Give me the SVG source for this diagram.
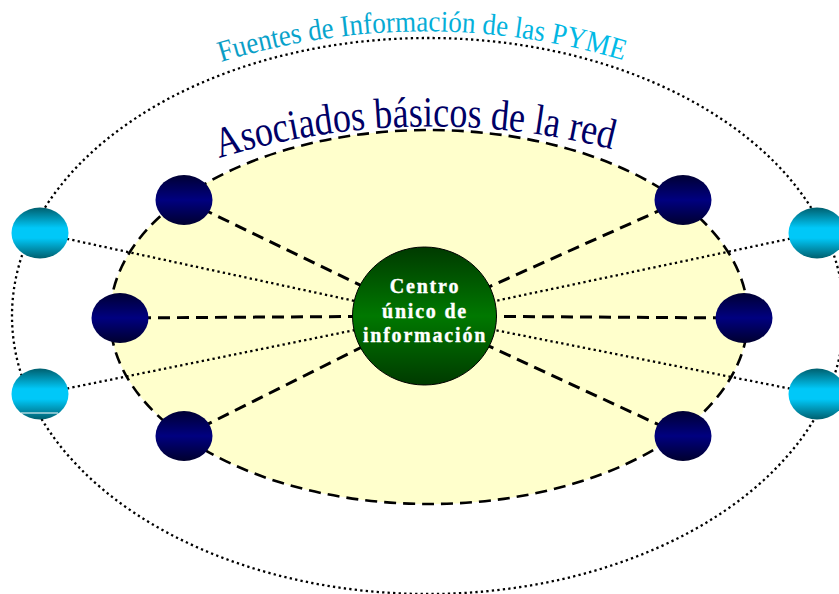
<svg xmlns="http://www.w3.org/2000/svg" width="839" height="594" viewBox="0 0 839 594">
<defs>
<linearGradient id="gBlue" x1="0" y1="0" x2="0" y2="1">
<stop offset="0" stop-color="#000033"/>
<stop offset="0.5" stop-color="#000080"/>
<stop offset="1" stop-color="#00002e"/>
</linearGradient>
<linearGradient id="gCyan" x1="0" y1="0" x2="0" y2="1">
<stop offset="0" stop-color="#005f6e"/>
<stop offset="0.4" stop-color="#00c8f8"/>
<stop offset="0.6" stop-color="#00c8f8"/>
<stop offset="1" stop-color="#005f6e"/>
</linearGradient>
<linearGradient id="gGreen" x1="0" y1="0" x2="0" y2="1">
<stop offset="0" stop-color="#003a00"/>
<stop offset="0.5" stop-color="#007800"/>
<stop offset="1" stop-color="#003a00"/>
</linearGradient>
<linearGradient id="gTitle" x1="0" y1="0" x2="1" y2="0">
<stop offset="0" stop-color="#0a9cc4"/>
<stop offset="1" stop-color="#00bce8"/>
</linearGradient>
<path id="arcTop" d="M 221 62 A 695 695 0 0 1 629 62"/>
<path id="arcMid" d="M 219 158 A 729 729 0 0 1 615 150"/>
<style>
.outer{fill:none;stroke:#000;stroke-width:2.3;stroke-dasharray:2.3 3.2}
.inner{fill:#ffffcc;stroke:#000;stroke-width:2.6;stroke-dasharray:12 7}
.dash{stroke:#000;stroke-width:3;stroke-dasharray:12 7;fill:none}
.dot{stroke:#000;stroke-width:2.3;stroke-dasharray:2.3 3.2;fill:none}
.blue{fill:url(#gBlue)}
.cyan{fill:url(#gCyan)}
.ctext{font-family:"Liberation Serif","Times New Roman",serif;font-weight:bold;font-size:20px;fill:#fff;stroke:#fff;stroke-width:0.35px;letter-spacing:1.8px;text-anchor:middle}
</style>
</defs>
<rect width="839" height="594" fill="#fff"/>
<ellipse class="outer" cx="428" cy="316" rx="416" ry="278"/>
<ellipse class="inner" cx="429" cy="317" rx="319" ry="187"/>
<text font-family="'Liberation Serif','Times New Roman',serif" font-size="30" fill="url(#gTitle)"><textPath href="#arcTop" textLength="408" lengthAdjust="spacingAndGlyphs">Fuentes de Información de las PYME</textPath></text>
<text font-family="'Liberation Serif','Times New Roman',serif" font-size="43" fill="#000066"><textPath href="#arcMid" textLength="398" lengthAdjust="spacingAndGlyphs">Asociados básicos de la red</textPath></text>
<g id="connectors">
<line class="dash" x1="184" y1="200" x2="424" y2="316"/>
<line class="dash" x1="120" y1="318" x2="424" y2="316"/>
<line class="dash" x1="184" y1="436" x2="424" y2="316"/>
<line class="dash" x1="683" y1="200" x2="424" y2="316"/>
<line class="dash" x1="744" y1="318" x2="424" y2="316"/>
<line class="dash" x1="683" y1="436" x2="424" y2="316"/>
<line class="dot" x1="40" y1="233" x2="424" y2="316"/>
<line class="dot" x1="40" y1="394" x2="424" y2="316"/>
<line class="dot" x1="817" y1="233" x2="424" y2="316"/>
<line class="dot" x1="817" y1="394" x2="424" y2="316"/>
</g>
<g id="n-blue-tl"><ellipse class="blue" cx="184" cy="200" rx="28.5" ry="25"/></g>
<g id="n-blue-ml"><ellipse class="blue" cx="120" cy="318" rx="28.5" ry="25"/></g>
<g id="n-blue-bl"><ellipse class="blue" cx="184" cy="436" rx="28.5" ry="25"/></g>
<g id="n-blue-tr"><ellipse class="blue" cx="683" cy="200" rx="28.5" ry="25"/></g>
<g id="n-blue-mr"><ellipse class="blue" cx="744" cy="318" rx="28.5" ry="25"/></g>
<g id="n-blue-br"><ellipse class="blue" cx="683" cy="436" rx="28.5" ry="25"/></g>
<g id="n-cyan-tl"><ellipse class="cyan" cx="40" cy="233" rx="28.5" ry="25.5"/></g>
<g id="n-cyan-bl"><ellipse class="cyan" cx="40" cy="394" rx="28.5" ry="25.5"/><line x1="21" y1="413" x2="58" y2="413" stroke="#fff" stroke-width="1.2"/></g>
<g id="n-cyan-tr"><ellipse class="cyan" cx="817" cy="233" rx="28.5" ry="25.5"/></g>
<g id="n-cyan-br"><ellipse class="cyan" cx="817" cy="394" rx="28.5" ry="25.5"/></g>
<g id="n-centro">
<ellipse cx="424.5" cy="316" rx="72" ry="69" fill="url(#gGreen)" stroke="#000" stroke-width="1"/>
<text class="ctext" x="425" y="293">Centro</text>
<text class="ctext" x="425" y="318">único de</text>
<text class="ctext" x="425" y="342">información</text>
</g>
</svg>
